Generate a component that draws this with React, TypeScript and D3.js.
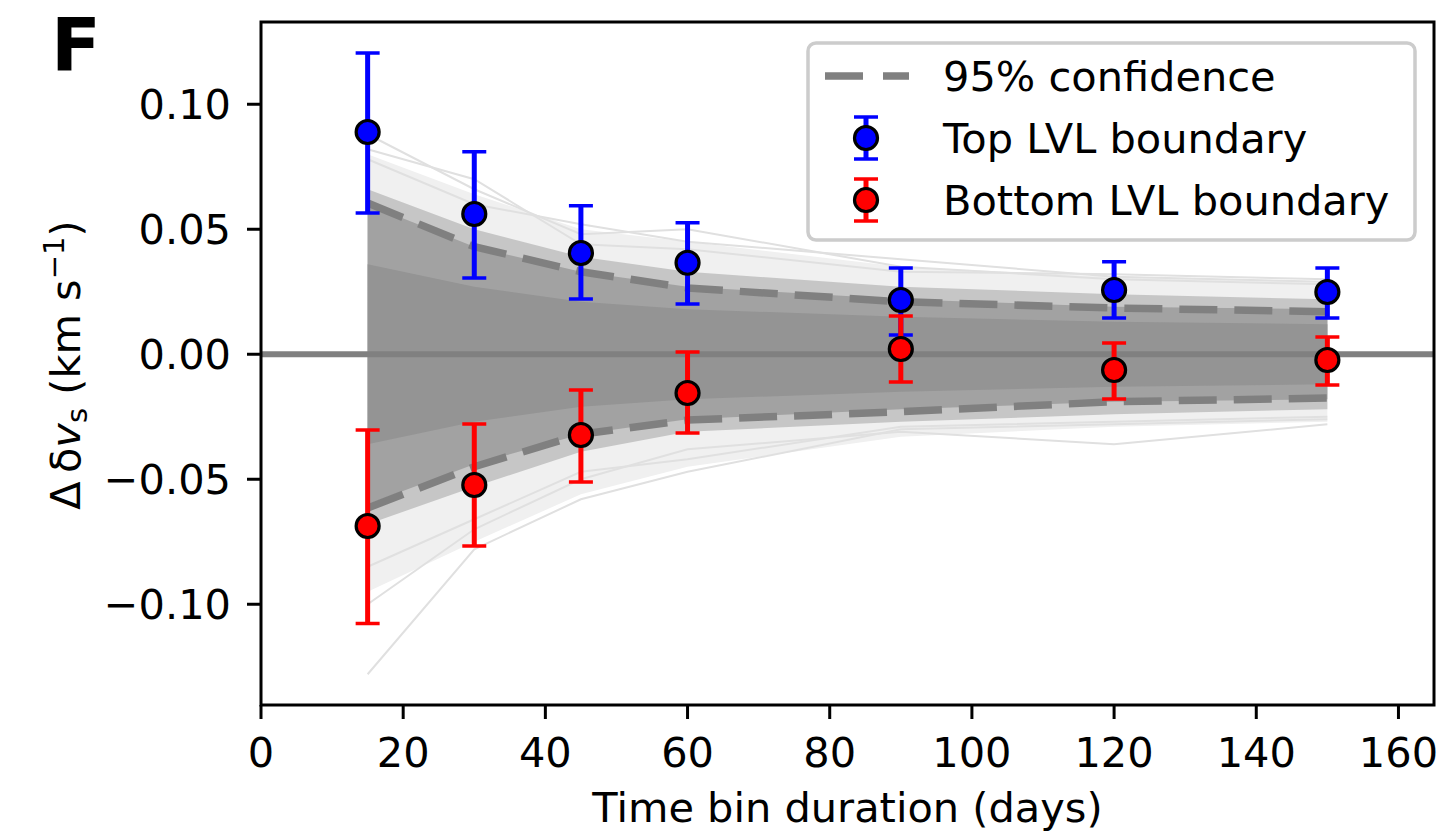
import React from "react";
import * as d3 from "d3";

// ---------- data ----------
const bins = [15, 30, 45, 60, 90, 120, 150];

const topVal = [0.0889, 0.0561, 0.0405, 0.0366, 0.0217, 0.0257, 0.0249];
const topLo = [0.0565, 0.0305, 0.0221, 0.0201, 0.0077, 0.0145, 0.0145];
const topHi = [0.1205, 0.081, 0.0594, 0.0526, 0.0345, 0.037, 0.0345];

const botVal = [-0.0687, -0.0523, -0.0323, -0.0155, 0.0021, -0.0063, -0.0023];
const botLo = [-0.1077, -0.0767, -0.0511, -0.0315, -0.0111, -0.0179, -0.0123];
const botHi = [-0.0303, -0.0279, -0.0143, 0.0009, 0.0153, 0.0045, 0.0069];

const ciUpper = [0.0605, 0.043, 0.033, 0.0265, 0.021, 0.0185, 0.017];
const ciLower = [-0.0615, -0.045, -0.032, -0.0263, -0.023, -0.019, -0.0175];

// envelope bands of the random-trial ensemble (outer -> inner)
const bandOuterUp = [0.080, 0.064, 0.050, 0.045, 0.035, 0.031, 0.029];
const bandOuterLo = [-0.095, -0.075, -0.056, -0.045, -0.033, -0.029, -0.027];
const bandMidUp = [0.066, 0.050, 0.039, 0.033, 0.027, 0.024, 0.022];
const bandMidLo = [-0.068, -0.053, -0.039, -0.031, -0.027, -0.024, -0.022];
const bandInnerUp = [0.060, 0.043, 0.033, 0.027, 0.022, 0.019, 0.018];
const bandInnerLo = [-0.060, -0.044, -0.032, -0.026, -0.022, -0.019, -0.018];
const bandCoreUp = [0.036, 0.027, 0.021, 0.018, 0.015, 0.013, 0.012];
const bandCoreLo = [-0.036, -0.027, -0.021, -0.018, -0.015, -0.013, -0.012];

// a few individually visible outlier trials
const outlier1 = [-0.128, -0.078, -0.058, -0.047, -0.030, -0.028, -0.026];
const outlier2 = [-0.100, -0.070, -0.050, -0.038, -0.031, -0.036, -0.028];
const outlier3 = [-0.085, -0.066, -0.047, -0.042, -0.029, -0.027, -0.025];
const outlier4 = [0.088, 0.066, 0.048, 0.050, 0.035, 0.030, 0.028];
const outlier5 = [0.078, 0.060, 0.052, 0.045, 0.038, 0.031, 0.029];
const outlier6 = [0.082, 0.070, 0.044, 0.042, 0.033, 0.032, 0.030];
const outliers = [outlier1, outlier2, outlier3, outlier4, outlier5, outlier6];

const xTicks = [0, 20, 40, 60, 80, 100, 120, 140, 160];
const yTicks = [0.1, 0.05, 0, -0.05, -0.1];
const yTickLabels = ["0.10", "0.05", "0.00", "\u22120.05", "\u22120.10"];

const xDomain = [0, 165];
const yDomain = [-0.1403, 0.1329];

const legendLabels = ["95% confidence", "Top LVL boundary", "Bottom LVL boundary"];

// ---------- layout ----------
const W = 1450;
const H = 833;
const L = 261;
const R = 1434;
const T = 22;
const B = 705;
const FONT = "DejaVu Sans, sans-serif";
const FS = 41.5;

export default function App() {
  const x = d3.scaleLinear().domain(xDomain).range([L, R]);
  const y = d3.scaleLinear().domain(yDomain).range([B, T]);

  const band = (up: number[], lo: number[]) =>
    d3
      .area<number>()
      .x((_, i) => x(bins[i]))
      .y0((_, i) => y(lo[i]))
      .y1((d) => y(d))(up) as string;

  const line = (vals: number[]) =>
    d3
      .line<number>()
      .x((_, i) => x(bins[i]))
      .y((d) => y(d))(vals) as string;

  const capW = 12;

  const errSeries = (
    vals: number[],
    lo: number[],
    hi: number[],
    color: string,
    key: string
  ) => (
    <g key={key}>
      {bins.map((b, i) => (
        <g key={i}>
          <line x1={x(b)} x2={x(b)} y1={y(lo[i])} y2={y(hi[i])} stroke={color} strokeWidth={5} />
          <line x1={x(b) - capW} x2={x(b) + capW} y1={y(lo[i])} y2={y(lo[i])} stroke={color} strokeWidth={3.5} />
          <line x1={x(b) - capW} x2={x(b) + capW} y1={y(hi[i])} y2={y(hi[i])} stroke={color} strokeWidth={3.5} />
        </g>
      ))}
      {bins.map((b, i) => (
        <circle key={"m" + i} cx={x(b)} cy={y(vals[i])} r={11.5} fill={color} stroke="#000" strokeWidth={3.2} />
      ))}
    </g>
  );

  const legX = 808;
  const legY = 43;
  const legW = 607;
  const legH = 197;
  const rowY = [76, 138, 200];
  const textX = 943;
  const handleX = 866;

  return (
    <svg
      width={W}
      height={H}
      style={{ position: "absolute", left: 0, top: 0, background: "#fff" }}
      fontFamily={FONT}
    >
      <rect x={0} y={0} width={W} height={H} fill="#fff" />
      <defs>
        <clipPath id="plotclip">
          <rect x={L} y={T} width={R - L} height={B - T} />
        </clipPath>
      </defs>

      <g clipPath="url(#plotclip)">
        {/* ensemble envelope */}
        <path d={band(bandOuterUp, bandOuterLo)} fill="#f0f0f0" />
        {outliers.map((o, i) => (
          <path key={i} d={line(o)} fill="none" stroke="#e0e0e0" strokeWidth={2} />
        ))}
        <path d={band(bandMidUp, bandMidLo)} fill="#c6c6c6" />
        <path d={band(bandInnerUp, bandInnerLo)} fill="#a2a2a2" />
        <path d={band(bandCoreUp, bandCoreLo)} fill="#949494" />

        {/* zero line */}
        <line x1={L} x2={R} y1={y(0)} y2={y(0)} stroke="#808080" strokeWidth={6} />

        {/* 95% confidence */}
        <path d={line(ciUpper)} fill="none" stroke="#808080" strokeWidth={7.5} strokeDasharray="38 17" />
        <path d={line(ciLower)} fill="none" stroke="#808080" strokeWidth={7.5} strokeDasharray="38 17" />
      </g>

      {errSeries(topVal, topLo, topHi, "#0000ff", "top")}
      {errSeries(botVal, botLo, botHi, "#ff0000", "bot")}

      {/* axes frame */}
      <rect x={L} y={T} width={R - L} height={B - T} fill="none" stroke="#000" strokeWidth={3} />

      {/* x ticks */}
      {xTicks.map((t) => (
        <g key={"x" + t}>
          <line x1={x(t)} x2={x(t)} y1={B} y2={B + 14} stroke="#000" strokeWidth={3} />
          <text x={x(t)} y={767} fontSize={FS} textAnchor="middle" fill="#000">
            {t}
          </text>
        </g>
      ))}

      {/* y ticks */}
      {yTicks.map((t, i) => (
        <g key={"y" + i}>
          <line x1={L - 14} x2={L} y1={y(t)} y2={y(t)} stroke="#000" strokeWidth={3} />
          <text x={231} y={y(t) + 15} fontSize={FS} textAnchor="end" fill="#000">
            {yTickLabels[i]}
          </text>
        </g>
      ))}

      {/* axis labels */}
      <text x={(L + R) / 2} y={822} fontSize={FS} textAnchor="middle" fill="#000">
        Time bin duration (days)
      </text>
      <text transform="translate(80,365) rotate(-90)" fontSize={FS} textAnchor="middle" fill="#000">
        <tspan>{"\u0394\u2009\u03B4"}</tspan>
        <tspan fontStyle="italic">v</tspan>
        <tspan fontSize={FS * 0.7} dy={7}>s</tspan>
        <tspan dy={-7}>{" (km s"}</tspan>
        <tspan fontSize={FS * 0.7} dy={-16}>{"\u22121"}</tspan>
        <tspan dy={16}>)</tspan>
      </text>

      {/* panel letter */}
      <text x={51} y={71} fontSize={73} fontWeight="bold" fill="#000">
        F
      </text>

      {/* legend */}
      <rect x={legX} y={legY} width={legW} height={legH} rx={8} ry={8} fill="#fff" fillOpacity={0.8} stroke="#cccccc" strokeWidth={3.5} />
      <line x1={825} x2={909} y1={rowY[0]} y2={rowY[0]} stroke="#808080" strokeWidth={7.5} strokeDasharray="38 20" />
      {[
        { c: "#0000ff", yy: rowY[1] },
        { c: "#ff0000", yy: rowY[2] },
      ].map((h, i) => (
        <g key={"lh" + i}>
          <line x1={handleX} x2={handleX} y1={h.yy - 21} y2={h.yy + 21} stroke={h.c} strokeWidth={5} />
          <line x1={handleX - capW} x2={handleX + capW} y1={h.yy - 21} y2={h.yy - 21} stroke={h.c} strokeWidth={3.5} />
          <line x1={handleX - capW} x2={handleX + capW} y1={h.yy + 21} y2={h.yy + 21} stroke={h.c} strokeWidth={3.5} />
          <circle cx={handleX} cy={h.yy} r={11.5} fill={h.c} stroke="#000" strokeWidth={3.2} />
        </g>
      ))}
      {legendLabels.map((lab, i) => (
        <text key={lab} x={textX} y={rowY[i] + 15} fontSize={FS} fill="#000">
          {lab}
        </text>
      ))}
    </svg>
  );
}
